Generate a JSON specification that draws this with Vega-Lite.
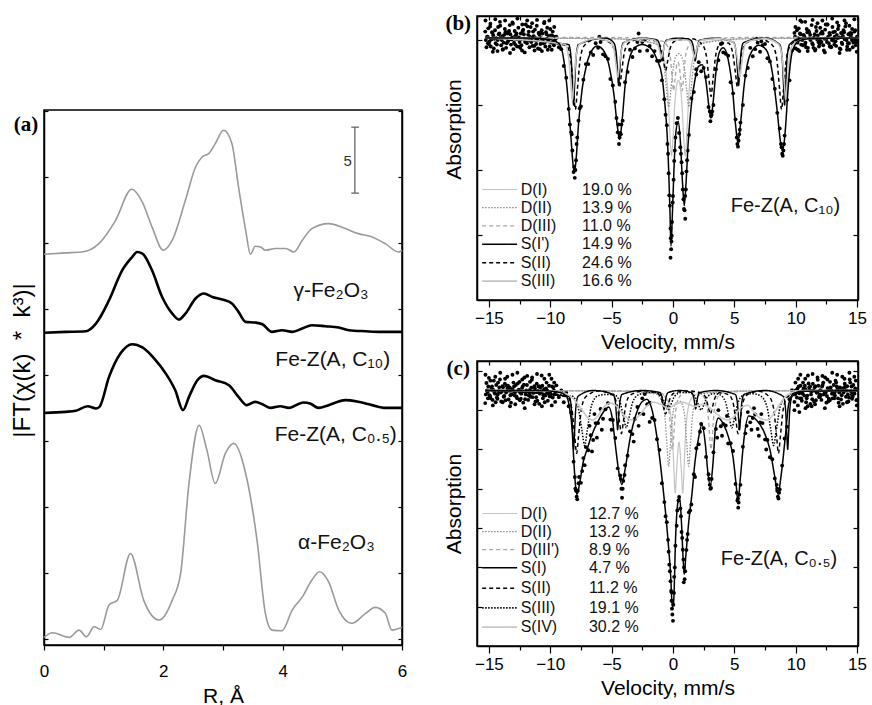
{
"$schema":"https://vega.github.io/schema/vega-lite/v6.json",
"padding":{"left":9,"top":12,"right":4,"bottom":0},
"config":{
 "font":"Liberation Sans",
 "view":{"stroke":"black","strokeWidth":1.5},
 "axis":{"grid":false,"domainColor":"black","domainWidth":1.5,"tickColor":"black","tickWidth":1.2,"labelColor":"black","titleColor":"black","titleFontWeight":"normal","labelFont":"Liberation Sans","titleFont":"Liberation Sans"}
},
"datasets":{
"ft":[
{"s":"g","r":0,"f":29.17},{"s":"g","r":0.36,"f":29.27},{"s":"g","r":0.64,"f":29.34},{"s":"g","r":0.92,"f":29.97},{"s":"g","r":1.2,"f":31.74},{"s":"g","r":1.47,"f":34.09},{"s":"g","r":1.65,"f":33.1},{"s":"g","r":1.81,"f":31.24},{"s":"g","r":2.0,"f":29.47},{"s":"g","r":2.15,"f":30.23},{"s":"g","r":2.37,"f":33.26},{"s":"g","r":2.54,"f":35.78},{"s":"g","r":2.65,"f":36.54},{"s":"g","r":2.76,"f":36.79},{"s":"g","r":2.87,"f":37.55},{"s":"g","r":3.01,"f":38.56},{"s":"g","r":3.15,"f":37.55},{"s":"g","r":3.26,"f":34.27},{"s":"g","r":3.38,"f":30.98},{"s":"g","r":3.46,"f":29.17},{"s":"g","r":3.54,"f":29.77},{"s":"g","r":3.63,"f":29.72},{"s":"g","r":3.71,"f":29.47},{"s":"g","r":3.88,"f":29.6},{"s":"g","r":4.05,"f":29.6},{"s":"g","r":4.19,"f":29.34},{"s":"g","r":4.33,"f":30.23},{"s":"g","r":4.49,"f":31.11},{"s":"g","r":4.77,"f":31.49},{"s":"g","r":5.05,"f":31.11},{"s":"g","r":5.27,"f":30.73},{"s":"g","r":5.5,"f":30.48},{"s":"g","r":5.72,"f":29.97},{"s":"g","r":5.94,"f":29.34},{"s":"g","r":6,"f":29.47},
{"s":"c10","r":0,"f":23.21},{"s":"c10","r":0.36,"f":23.28},{"s":"c10","r":0.7,"f":23.33},{"s":"c10","r":0.87,"f":23.91},{"s":"c10","r":1.09,"f":25.68},{"s":"c10","r":1.31,"f":27.95},{"s":"c10","r":1.48,"f":28.97},{"s":"c10","r":1.56,"f":29.34},{"s":"c10","r":1.65,"f":29.22},{"s":"c10","r":1.81,"f":27.95},{"s":"c10","r":1.98,"f":25.93},{"s":"c10","r":2.15,"f":24.67},{"s":"c10","r":2.26,"f":24.22},{"s":"c10","r":2.37,"f":24.67},{"s":"c10","r":2.54,"f":25.81},{"s":"c10","r":2.68,"f":26.19},{"s":"c10","r":2.82,"f":25.93},{"s":"c10","r":2.99,"f":25.73},{"s":"c10","r":3.15,"f":25.43},{"s":"c10","r":3.26,"f":24.8},{"s":"c10","r":3.38,"f":24.04},{"s":"c10","r":3.54,"f":23.99},{"s":"c10","r":3.66,"f":23.86},{"s":"c10","r":3.82,"f":23.28},{"s":"c10","r":3.99,"f":23.41},{"s":"c10","r":4.16,"f":23.28},{"s":"c10","r":4.33,"f":23.54},{"s":"c10","r":4.49,"f":23.79},{"s":"c10","r":4.72,"f":23.71},{"s":"c10","r":4.94,"f":23.61},{"s":"c10","r":5.11,"f":23.41},{"s":"c10","r":5.39,"f":23.33},{"s":"c10","r":5.66,"f":23.28},{"s":"c10","r":6,"f":23.28},
{"s":"c05","r":0,"f":17.14},{"s":"c05","r":0.36,"f":17.22},{"s":"c05","r":0.53,"f":17.3},{"s":"c05","r":0.73,"f":17.65},{"s":"c05","r":0.87,"f":17.48},{"s":"c05","r":0.93,"f":17.6},{"s":"c05","r":1.09,"f":19.87},{"s":"c05","r":1.28,"f":21.64},{"s":"c05","r":1.48,"f":22.35},{"s":"c05","r":1.65,"f":22.1},{"s":"c05","r":1.87,"f":21.14},{"s":"c05","r":2.04,"f":20.13},{"s":"c05","r":2.2,"f":18.86},{"s":"c05","r":2.33,"f":17.35},{"s":"c05","r":2.43,"f":18.36},{"s":"c05","r":2.57,"f":19.62},{"s":"c05","r":2.68,"f":19.95},{"s":"c05","r":2.87,"f":19.62},{"s":"c05","r":3.1,"f":19.24},{"s":"c05","r":3.26,"f":18.36},{"s":"c05","r":3.4,"f":17.73},{"s":"c05","r":3.54,"f":17.98},{"s":"c05","r":3.66,"f":17.8},{"s":"c05","r":3.8,"f":17.52},{"s":"c05","r":3.96,"f":17.65},{"s":"c05","r":4.1,"f":17.52},{"s":"c05","r":4.35,"f":17.93},{"s":"c05","r":4.46,"f":17.86},{"s":"c05","r":4.6,"f":17.52},{"s":"c05","r":4.77,"f":17.73},{"s":"c05","r":5.05,"f":18.11},{"s":"c05","r":5.27,"f":17.98},{"s":"c05","r":5.5,"f":17.73},{"s":"c05","r":5.72,"f":17.52},{"s":"c05","r":6,"f":17.52},
{"s":"a","r":0,"f":0.13},{"s":"a","r":0.14,"f":0.48},{"s":"a","r":0.42,"f":0.13},{"s":"a","r":0.59,"f":0.68},{"s":"a","r":0.71,"f":0.17},{"s":"a","r":0.84,"f":0.93},{"s":"a","r":0.95,"f":0.73},{"s":"a","r":1.09,"f":2.58},{"s":"a","r":1.23,"f":2.95},{"s":"a","r":1.45,"f":6.49},{"s":"a","r":1.67,"f":2.95},{"s":"a","r":1.93,"f":1.44},{"s":"a","r":2.15,"f":2.95},{"s":"a","r":2.29,"f":4.98},{"s":"a","r":2.43,"f":11.8},{"s":"a","r":2.6,"f":16.21},{"s":"a","r":2.73,"f":14.32},{"s":"a","r":2.87,"f":11.8},{"s":"a","r":3.04,"f":14.07},{"s":"a","r":3.18,"f":14.83},{"s":"a","r":3.38,"f":12.55},{"s":"a","r":3.57,"f":7.5},{"s":"a","r":3.71,"f":1.95},{"s":"a","r":3.82,"f":0.68},{"s":"a","r":3.99,"f":0.63},{"s":"a","r":4.16,"f":2.2},{"s":"a","r":4.33,"f":3.2},{"s":"a","r":4.49,"f":4.47},{"s":"a","r":4.62,"f":5.1},{"s":"a","r":4.77,"f":4.34},{"s":"a","r":4.94,"f":2.2},{"s":"a","r":5.16,"f":1.19},{"s":"a","r":5.39,"f":1.95},{"s":"a","r":5.55,"f":2.4},{"s":"a","r":5.72,"f":1.95},{"s":"a","r":5.83,"f":0.68},{"s":"a","r":6,"f":0.89}
],
"fit_b":[
{"v":-15.3,"a":4.03},{"v":-12,"a":4.03},{"v":-10,"a":4.01},{"v":-9.3,"a":3.95},{"v":-8.9,"a":3.7},{"v":-8.6,"a":3.2},{"v":-8.35,"a":2.6},{"v":-8.15,"a":2.1},{"v":-8.04,"a":1.96},{"v":-7.9,"a":2.15},{"v":-7.7,"a":2.7},{"v":-7.4,"a":3.25},{"v":-7.0,"a":3.65},{"v":-6.5,"a":3.87},{"v":-6.19,"a":3.91},{"v":-5.7,"a":3.85},{"v":-5.2,"a":3.6},{"v":-4.8,"a":3.15},{"v":-4.55,"a":2.7},{"v":-4.35,"a":2.47},{"v":-4.15,"a":2.75},{"v":-3.9,"a":3.3},{"v":-3.5,"a":3.75},{"v":-3.0,"a":3.9},{"v":-2.53,"a":3.93},{"v":-2.0,"a":3.9},{"v":-1.7,"a":3.85},{"v":-1.3,"a":3.7},{"v":-0.9,"a":3.45},{"v":-0.65,"a":3.0},{"v":-0.49,"a":2.6},{"v":-0.35,"a":2.0},{"v":-0.25,"a":1.4},{"v":-0.16,"a":0.83},{"v":-0.05,"a":1.3},{"v":0.1,"a":2.1},{"v":0.25,"a":2.6},{"v":0.43,"a":2.75},{"v":0.6,"a":2.45},{"v":0.78,"a":1.8},{"v":0.92,"a":1.45},{"v":1.05,"a":1.75},{"v":1.25,"a":2.45},{"v":1.5,"a":3.0},{"v":1.8,"a":3.4},{"v":2.1,"a":3.6},{"v":2.4,"a":3.62},{"v":2.7,"a":3.35},{"v":2.95,"a":2.95},{"v":3.1,"a":2.8},{"v":3.25,"a":3.0},{"v":3.5,"a":3.5},{"v":3.8,"a":3.82},{"v":4.1,"a":3.88},{"v":4.5,"a":3.7},{"v":4.85,"a":3.25},{"v":5.1,"a":2.7},{"v":5.3,"a":2.42},{"v":5.5,"a":2.7},{"v":5.8,"a":3.3},{"v":6.3,"a":3.78},{"v":7.0,"a":3.92},{"v":7.6,"a":3.85},{"v":8.1,"a":3.5},{"v":8.5,"a":2.9},{"v":8.75,"a":2.45},{"v":8.94,"a":2.29},{"v":9.15,"a":2.6},{"v":9.4,"a":3.3},{"v":9.7,"a":3.8},{"v":10.2,"a":3.98},{"v":11,"a":4.02},{"v":15.1,"a":4.03}
],
"fit_c":[
{"v":-15.3,"a":6.5},{"v":-11,"a":6.5},{"v":-9.5,"a":6.47},{"v":-9,"a":6.43},{"v":-8.64,"a":6.33},{"v":-8.4,"a":6.0},{"v":-8.23,"a":5.56},{"v":-8.04,"a":4.5},{"v":-7.9,"a":3.95},{"v":-7.82,"a":3.86},{"v":-7.6,"a":4.15},{"v":-7.3,"a":4.7},{"v":-7.0,"a":5.0},{"v":-6.7,"a":5.3},{"v":-6.0,"a":5.78},{"v":-5.5,"a":6.02},{"v":-5.24,"a":6.08},{"v":-4.95,"a":5.8},{"v":-4.7,"a":5.13},{"v":-4.4,"a":4.4},{"v":-4.16,"a":4.11},{"v":-3.9,"a":4.5},{"v":-3.48,"a":5.3},{"v":-3.0,"a":5.9},{"v":-2.5,"a":6.22},{"v":-2.12,"a":6.28},{"v":-1.7,"a":6.0},{"v":-1.3,"a":5.3},{"v":-0.87,"a":4.2},{"v":-0.46,"a":2.9},{"v":-0.19,"a":1.8},{"v":-0.05,"a":1.0},{"v":0.05,"a":1.1},{"v":0.22,"a":2.8},{"v":0.4,"a":3.65},{"v":0.55,"a":3.77},{"v":0.7,"a":3.1},{"v":0.85,"a":2.1},{"v":0.92,"a":1.82},{"v":1.05,"a":2.3},{"v":1.3,"a":3.2},{"v":1.55,"a":3.87},{"v":1.8,"a":4.7},{"v":2.09,"a":5.3},{"v":2.36,"a":5.64},{"v":2.65,"a":5.1},{"v":2.85,"a":4.4},{"v":3.04,"a":4.07},{"v":3.25,"a":4.6},{"v":3.45,"a":5.5},{"v":3.7,"a":5.8},{"v":4.1,"a":5.65},{"v":4.54,"a":5.3},{"v":4.9,"a":4.8},{"v":5.15,"a":4.1},{"v":5.3,"a":3.69},{"v":5.5,"a":4.3},{"v":5.8,"a":5.3},{"v":6.17,"a":5.85},{"v":6.8,"a":5.75},{"v":7.39,"a":5.47},{"v":7.9,"a":5.0},{"v":8.3,"a":4.3},{"v":8.56,"a":3.86},{"v":8.8,"a":4.3},{"v":9.15,"a":5.3},{"v":9.43,"a":6.15},{"v":9.8,"a":6.42},{"v":10.5,"a":6.48},{"v":15.1,"a":6.5}
],
"pts_b":[
{"v":-15.3,"a":4.13},{"v":-15.2,"a":3.89},{"v":-15.1,"a":4.05},{"v":-15.0,"a":3.94},{"v":-14.9,"a":4.21},{"v":-14.8,"a":4.01},{"v":-14.7,"a":4.11},{"v":-14.6,"a":3.87},{"v":-14.5,"a":4.15},{"v":-14.4,"a":4.03},{"v":-14.3,"a":3.83},{"v":-14.2,"a":4.09},{"v":-14.1,"a":4.28},{"v":-14.0,"a":3.92},{"v":-13.9,"a":4.06},{"v":-13.8,"a":3.96},{"v":-13.7,"a":4.17},{"v":-13.6,"a":3.88},{"v":-13.5,"a":4.12},{"v":-13.4,"a":4.0},{"v":-13.3,"a":4.23},{"v":-13.2,"a":3.93},{"v":-13.1,"a":4.04},{"v":-13.0,"a":3.86},{"v":-12.9,"a":4.14},{"v":-12.8,"a":4.07},{"v":-12.7,"a":3.9},{"v":-12.6,"a":4.19},{"v":-12.5,"a":3.97},{"v":-12.4,"a":4.1},{"v":-12.3,"a":3.84},{"v":-12.2,"a":4.16},{"v":-12.1,"a":4.02},{"v":-12.0,"a":4.24},{"v":-11.9,"a":3.95},{"v":-11.8,"a":4.08},{"v":-11.7,"a":3.89},{"v":-11.6,"a":4.2},{"v":-11.5,"a":3.99},{"v":-11.4,"a":4.13},{"v":-11.3,"a":3.91},{"v":-11.2,"a":4.03},{"v":-11.1,"a":4.22},{"v":-11.0,"a":3.87},{"v":-10.9,"a":4.11},{"v":-10.8,"a":3.94},{"v":-10.7,"a":4.15},{"v":-10.6,"a":4.01},{"v":-10.5,"a":4.26},{"v":-10.4,"a":3.9},{"v":-10.3,"a":4.09},{"v":-10.2,"a":3.85},{"v":-10.1,"a":4.06},{"v":-10.0,"a":4.17},{"v":-9.9,"a":3.96},{"v":-9.8,"a":4.13},{"v":-9.7,"a":3.92},{"v":-9.6,"a":4.05},
{"v":-15.25,"a":4.0},{"v":-15.05,"a":4.18},{"v":-14.85,"a":3.9},{"v":-14.65,"a":4.07},{"v":-14.45,"a":3.95},{"v":-14.25,"a":4.2},{"v":-14.05,"a":4.04},{"v":-13.85,"a":3.86},{"v":-13.65,"a":4.12},{"v":-13.45,"a":3.98},{"v":-13.25,"a":4.09},{"v":-13.05,"a":4.25},{"v":-12.85,"a":3.93},{"v":-12.65,"a":4.02},{"v":-12.45,"a":3.88},{"v":-12.25,"a":4.14},{"v":-12.05,"a":3.97},{"v":-11.85,"a":4.21},{"v":-11.65,"a":4.05},{"v":-11.45,"a":3.91},{"v":-11.25,"a":4.16},{"v":-11.05,"a":4.0},{"v":-10.85,"a":3.86},{"v":-10.65,"a":4.1},{"v":-10.45,"a":3.96},{"v":-10.25,"a":4.19},{"v":-10.05,"a":3.9},{"v":-9.85,"a":4.07},{"v":-9.65,"a":3.99},
{"v":-15.28,"a":4.3},{"v":-15.08,"a":3.95},{"v":-14.88,"a":4.25},{"v":-14.68,"a":3.82},{"v":-14.48,"a":4.32},{"v":-14.28,"a":4.0},{"v":-14.08,"a":4.22},{"v":-13.88,"a":3.85},{"v":-13.68,"a":4.3},{"v":-13.48,"a":4.1},{"v":-13.28,"a":3.8},{"v":-13.08,"a":4.27},{"v":-12.88,"a":4.05},{"v":-12.68,"a":4.33},{"v":-12.48,"a":3.9},{"v":-12.28,"a":4.24},{"v":-12.08,"a":3.81},{"v":-11.88,"a":4.3},{"v":-11.68,"a":4.0},{"v":-11.48,"a":4.26},{"v":-11.28,"a":3.84},{"v":-11.08,"a":4.31},{"v":-10.88,"a":4.08},{"v":-10.68,"a":3.83},{"v":-10.48,"a":4.28},{"v":-10.28,"a":4.02},{"v":-10.08,"a":4.3},{"v":-9.88,"a":3.85},{"v":-9.68,"a":4.2},
{"v":-15.15,"a":4.05},{"v":-14.95,"a":3.98},{"v":-14.75,"a":4.12},{"v":-14.55,"a":4.02},{"v":-14.35,"a":3.93},{"v":-14.15,"a":4.1},{"v":-13.95,"a":4.0},{"v":-13.75,"a":4.08},{"v":-13.55,"a":3.95},{"v":-13.35,"a":4.14},{"v":-13.15,"a":4.01},{"v":-12.95,"a":3.96},{"v":-12.75,"a":4.1},{"v":-12.55,"a":4.04},{"v":-12.35,"a":3.92},{"v":-12.15,"a":4.09},{"v":-11.95,"a":4.0},{"v":-11.75,"a":4.13},{"v":-11.55,"a":3.97},{"v":-11.35,"a":4.06},{"v":-11.15,"a":3.94},{"v":-10.95,"a":4.11},{"v":-10.75,"a":4.03},{"v":-10.55,"a":3.95},{"v":-10.35,"a":4.12},{"v":-10.15,"a":4.0},{"v":-9.95,"a":4.07},{"v":-9.75,"a":3.96},{"v":-9.55,"a":4.02},
{"v":-9.5,"a":4.05},{"v":-9.3,"a":3.89},{"v":-9.1,"a":3.86},{"v":-8.9,"a":3.6},{"v":-8.7,"a":3.42},{"v":-8.5,"a":2.94},{"v":-8.3,"a":2.58},{"v":-8.1,"a":1.97},{"v":-7.9,"a":2.15},{"v":-7.7,"a":2.76},{"v":-7.5,"a":2.98},{"v":-7.3,"a":3.39},{"v":-7.1,"a":3.63},{"v":-6.9,"a":3.63},{"v":-6.7,"a":3.81},{"v":-6.5,"a":3.77},{"v":-6.3,"a":3.95},{"v":-6.1,"a":3.88},{"v":-5.9,"a":3.97},{"v":-5.7,"a":3.78},{"v":-5.5,"a":3.75},{"v":-5.3,"a":3.71},{"v":-5.1,"a":3.4},{"v":-4.9,"a":3.3},{"v":-4.7,"a":3.05},{"v":-4.5,"a":2.58},{"v":-4.3,"a":2.57},{"v":-4.1,"a":2.76},{"v":-3.9,"a":3.35},{"v":-3.7,"a":3.51},{"v":-3.5,"a":3.85},{"v":-3.3,"a":3.74},{"v":-3.1,"a":3.87},{"v":-2.9,"a":3.97},{"v":-2.7,"a":3.83},{"v":-2.5,"a":3.97},{"v":-2.3,"a":4.0},{"v":-2.1,"a":3.84},{"v":-1.9,"a":3.91},{"v":-1.7,"a":3.75},{"v":-1.5,"a":3.83},{"v":-1.3,"a":3.68},{"v":-1.1,"a":3.68},{"v":-0.9,"a":3.38},{"v":-0.7,"a":3.09},{"v":-0.5,"a":2.69},{"v":-0.3,"a":1.61},{"v":-0.1,"a":0.99},{"v":0.1,"a":2.14},{"v":0.3,"a":2.72},{"v":0.5,"a":2.57},{"v":0.7,"a":2.12},{"v":0.9,"a":1.4},{"v":1.1,"a":1.98},{"v":1.3,"a":2.54},{"v":1.5,"a":3.1},{"v":1.7,"a":3.2},{"v":1.9,"a":3.47},{"v":2.1,"a":3.66},{"v":2.3,"a":3.52},{"v":2.5,"a":3.57},{"v":2.7,"a":3.43},{"v":2.9,"a":2.97},{"v":3.1,"a":2.83},{"v":3.3,"a":3.0},{"v":3.5,"a":3.55},{"v":3.7,"a":3.69},{"v":3.9,"a":3.94},{"v":4.1,"a":3.81},{"v":4.3,"a":3.79},{"v":4.5,"a":3.76},{"v":4.7,"a":3.35},{"v":4.9,"a":3.18},{"v":5.1,"a":2.78},{"v":5.3,"a":2.36},{"v":5.5,"a":2.73},{"v":5.7,"a":3.0},{"v":5.9,"a":3.45},{"v":6.1,"a":3.57},{"v":6.3,"a":3.88},{"v":6.5,"a":3.75},{"v":6.7,"a":3.86},{"v":6.9,"a":3.96},{"v":7.1,"a":3.82},{"v":7.3,"a":3.92},{"v":7.5,"a":3.94},{"v":7.7,"a":3.72},{"v":7.9,"a":3.67},{"v":8.1,"a":3.4},{"v":8.3,"a":3.25},{"v":8.5,"a":2.88},{"v":8.7,"a":2.64},{"v":8.9,"a":2.25},{"v":9.1,"a":2.53},{"v":9.3,"a":3.08},{"v":9.5,"a":3.38},{"v":9.7,"a":3.84},
{"v":-8.2,"a":2.3},{"v":-8.0,"a":1.88},{"v":-8.05,"a":2.05},{"v":-7.95,"a":2.0},{"v":-7.85,"a":2.4},{"v":-8.25,"a":2.55},{"v":-7.8,"a":2.5},{"v":-7.6,"a":2.95},{"v":-8.4,"a":2.7},{"v":-4.4,"a":2.4},{"v":-4.35,"a":2.5},{"v":-4.25,"a":2.55},{"v":-4.45,"a":2.7},{"v":-4.2,"a":2.7},{"v":-4.6,"a":2.8},{"v":-0.6,"a":2.85},{"v":-0.45,"a":2.4},{"v":-0.4,"a":2.25},{"v":-0.35,"a":1.95},{"v":-0.25,"a":1.45},{"v":-0.2,"a":1.1},{"v":-0.18,"a":0.95},{"v":-0.15,"a":0.78},{"v":-0.12,"a":0.9},{"v":-0.08,"a":1.2},{"v":-0.02,"a":1.5},{"v":0.0,"a":1.6},{"v":0.05,"a":1.85},{"v":0.15,"a":2.3},{"v":0.2,"a":2.5},{"v":0.4,"a":2.8},{"v":0.6,"a":2.35},{"v":0.65,"a":2.25},{"v":0.75,"a":1.95},{"v":0.8,"a":1.7},{"v":0.85,"a":1.55},{"v":0.95,"a":1.38},{"v":1.0,"a":1.6},{"v":1.05,"a":1.7},{"v":1.15,"a":2.15},{"v":1.2,"a":2.3},{"v":1.0,"a":1.25},{"v":-0.2,"a":0.65},{"v":3.0,"a":2.9},{"v":3.05,"a":2.75},{"v":3.15,"a":2.85},{"v":3.2,"a":2.9},{"v":5.2,"a":2.5},{"v":5.25,"a":2.4},{"v":5.35,"a":2.45},{"v":5.4,"a":2.55},{"v":5.45,"a":2.62},{"v":8.85,"a":2.35},{"v":8.95,"a":2.22},{"v":9.0,"a":2.3},{"v":9.05,"a":2.4},{"v":8.8,"a":2.4},{"v":-6.0,"a":4.05},{"v":-2.8,"a":4.1},{"v":6.8,"a":4.02},{"v":7.2,"a":3.98},{"v":4.0,"a":3.95},{"v":1.9,"a":3.55},
{"v":9.9,"a":4.11},{"v":10.0,"a":3.87},{"v":10.1,"a":4.15},{"v":10.2,"a":4.03},{"v":10.3,"a":3.83},{"v":10.4,"a":4.09},{"v":10.5,"a":4.28},{"v":10.6,"a":3.92},{"v":10.7,"a":4.06},{"v":10.8,"a":3.96},{"v":10.9,"a":4.17},{"v":11.0,"a":3.88},{"v":11.1,"a":4.12},{"v":11.2,"a":4.0},{"v":11.3,"a":4.23},{"v":11.4,"a":3.93},{"v":11.5,"a":4.04},{"v":11.6,"a":3.86},{"v":11.7,"a":4.14},{"v":11.8,"a":4.07},{"v":11.9,"a":3.9},{"v":12.0,"a":4.19},{"v":12.1,"a":3.97},{"v":12.2,"a":4.1},{"v":12.3,"a":3.84},{"v":12.4,"a":4.16},{"v":12.5,"a":4.02},{"v":12.6,"a":4.24},{"v":12.7,"a":3.95},{"v":12.8,"a":4.08},{"v":12.9,"a":3.89},{"v":13.0,"a":4.2},{"v":13.1,"a":3.99},{"v":13.2,"a":4.13},{"v":13.3,"a":3.91},{"v":13.4,"a":4.03},{"v":13.5,"a":4.22},{"v":13.6,"a":3.87},{"v":13.7,"a":4.11},{"v":13.8,"a":3.94},{"v":13.9,"a":4.15},{"v":14.0,"a":4.01},{"v":14.1,"a":4.26},{"v":14.2,"a":3.9},{"v":14.3,"a":4.09},{"v":14.4,"a":3.85},{"v":14.5,"a":4.06},{"v":14.6,"a":4.17},{"v":14.7,"a":3.96},{"v":14.8,"a":4.13},{"v":14.9,"a":3.92},{"v":15.0,"a":4.05},
{"v":10.05,"a":4.0},{"v":10.25,"a":4.18},{"v":10.45,"a":3.93},{"v":10.65,"a":4.08},{"v":10.85,"a":3.89},{"v":11.05,"a":4.14},{"v":11.25,"a":4.02},{"v":11.45,"a":3.88},{"v":11.65,"a":4.2},{"v":11.85,"a":3.97},{"v":12.05,"a":4.1},{"v":12.25,"a":3.92},{"v":12.45,"a":4.24},{"v":12.65,"a":4.05},{"v":12.85,"a":3.9},{"v":13.05,"a":4.12},{"v":13.25,"a":3.98},{"v":13.45,"a":4.17},{"v":13.65,"a":3.86},{"v":13.85,"a":4.06},{"v":14.05,"a":4.21},{"v":14.25,"a":3.95},{"v":14.45,"a":4.11},{"v":14.65,"a":3.89},{"v":14.85,"a":4.15},{"v":14.95,"a":4.0},
{"v":9.98,"a":4.2},{"v":10.18,"a":3.85},{"v":10.38,"a":4.3},{"v":10.58,"a":4.02},{"v":10.78,"a":4.28},{"v":10.98,"a":3.83},{"v":11.18,"a":4.08},{"v":11.38,"a":4.31},{"v":11.58,"a":3.84},{"v":11.78,"a":4.26},{"v":11.98,"a":4.0},{"v":12.18,"a":4.3},{"v":12.38,"a":3.81},{"v":12.58,"a":4.24},{"v":12.78,"a":3.9},{"v":12.98,"a":4.33},{"v":13.18,"a":4.05},{"v":13.38,"a":4.27},{"v":13.58,"a":3.8},{"v":13.78,"a":4.1},{"v":13.98,"a":4.3},{"v":14.18,"a":3.85},{"v":14.38,"a":4.22},{"v":14.58,"a":4.0},{"v":14.78,"a":4.32},{"v":14.98,"a":3.82},
{"v":9.95,"a":4.05},{"v":10.15,"a":3.96},{"v":10.35,"a":4.1},{"v":10.55,"a":4.0},{"v":10.75,"a":3.93},{"v":10.95,"a":4.12},{"v":11.15,"a":4.03},{"v":11.35,"a":3.95},{"v":11.55,"a":4.09},{"v":11.75,"a":4.01},{"v":11.95,"a":3.94},{"v":12.15,"a":4.13},{"v":12.35,"a":4.02},{"v":12.55,"a":3.97},{"v":12.75,"a":4.11},{"v":12.95,"a":4.0},{"v":13.15,"a":3.93},{"v":13.35,"a":4.08},{"v":13.55,"a":4.04},{"v":13.75,"a":3.96},{"v":13.95,"a":4.12},{"v":14.15,"a":4.0},{"v":14.35,"a":3.95},{"v":14.55,"a":4.1},{"v":14.75,"a":4.02},{"v":14.95,"a":3.97}
],
"pts_c":[
{"v":-15.3,"a":6.18},{"v":-15.2,"a":6.69},{"v":-15.1,"a":6.46},{"v":-15.0,"a":6.82},{"v":-14.9,"a":6.35},{"v":-14.8,"a":6.56},{"v":-14.7,"a":6.26},{"v":-14.6,"a":6.75},{"v":-14.5,"a":6.42},{"v":-14.4,"a":6.64},{"v":-14.3,"a":6.29},{"v":-14.2,"a":6.48},{"v":-14.1,"a":6.78},{"v":-14.0,"a":6.22},{"v":-13.9,"a":6.61},{"v":-13.8,"a":6.34},{"v":-13.7,"a":6.67},{"v":-13.6,"a":6.45},{"v":-13.5,"a":6.85},{"v":-13.4,"a":6.27},{"v":-13.3,"a":6.58},{"v":-13.2,"a":6.19},{"v":-13.1,"a":6.53},{"v":-13.0,"a":6.7},{"v":-12.9,"a":6.37},{"v":-12.8,"a":6.64},{"v":-12.7,"a":6.3},{"v":-12.6,"a":6.51},{"v":-12.5,"a":6.72},{"v":-12.4,"a":6.29},{"v":-12.3,"a":6.56},{"v":-12.2,"a":6.19},{"v":-12.1,"a":6.83},{"v":-12.0,"a":6.4},{"v":-11.9,"a":6.64},{"v":-11.8,"a":6.26},{"v":-11.7,"a":6.51},{"v":-11.6,"a":6.34},{"v":-11.5,"a":6.77},{"v":-11.4,"a":6.45},{"v":-11.3,"a":6.61},{"v":-11.2,"a":6.22},{"v":-11.1,"a":6.67},{"v":-11.0,"a":6.48},{"v":-10.9,"a":6.16},{"v":-10.8,"a":6.58},{"v":-10.7,"a":6.88},{"v":-10.6,"a":6.3},{"v":-10.5,"a":6.53},{"v":-10.4,"a":6.37},{"v":-10.3,"a":6.7},{"v":-10.2,"a":6.24},{"v":-10.1,"a":6.62},{"v":-10.0,"a":6.43},{"v":-9.9,"a":6.8},{"v":-9.8,"a":6.32},{"v":-9.7,"a":6.5},{"v":-9.6,"a":6.21},
{"v":-15.25,"a":6.4},{"v":-15.05,"a":6.6},{"v":-14.85,"a":6.3},{"v":-14.65,"a":6.52},{"v":-14.45,"a":6.2},{"v":-14.25,"a":6.7},{"v":-14.05,"a":6.45},{"v":-13.85,"a":6.58},{"v":-13.65,"a":6.25},{"v":-13.45,"a":6.62},{"v":-13.25,"a":6.38},{"v":-13.05,"a":6.5},{"v":-12.85,"a":6.15},{"v":-12.65,"a":6.68},{"v":-12.45,"a":6.44},{"v":-12.25,"a":6.6},{"v":-12.05,"a":6.28},{"v":-11.85,"a":6.48},{"v":-11.65,"a":6.72},{"v":-11.45,"a":6.33},{"v":-11.25,"a":6.55},{"v":-11.05,"a":6.24},{"v":-10.85,"a":6.42},{"v":-10.65,"a":6.62},{"v":-10.45,"a":6.2},{"v":-10.25,"a":6.5},{"v":-10.05,"a":6.35},{"v":-9.85,"a":6.6},{"v":-9.65,"a":6.4},
{"v":-15.28,"a":6.9},{"v":-15.08,"a":6.3},{"v":-14.88,"a":6.75},{"v":-14.68,"a":6.12},{"v":-14.48,"a":6.85},{"v":-14.28,"a":6.4},{"v":-14.08,"a":6.95},{"v":-13.88,"a":6.2},{"v":-13.68,"a":6.8},{"v":-13.48,"a":6.55},{"v":-13.28,"a":6.1},{"v":-13.08,"a":6.9},{"v":-12.88,"a":6.45},{"v":-12.68,"a":6.95},{"v":-12.48,"a":6.25},{"v":-12.28,"a":6.78},{"v":-12.08,"a":6.05},{"v":-11.88,"a":6.87},{"v":-11.68,"a":6.4},{"v":-11.48,"a":6.83},{"v":-11.28,"a":6.15},{"v":-11.08,"a":6.92},{"v":-10.88,"a":6.6},{"v":-10.68,"a":6.1},{"v":-10.48,"a":6.8},{"v":-10.28,"a":6.42},{"v":-10.08,"a":6.9},{"v":-9.88,"a":6.12},{"v":-9.68,"a":6.7},
{"v":-15.15,"a":6.5},{"v":-14.95,"a":6.38},{"v":-14.75,"a":6.6},{"v":-14.55,"a":6.45},{"v":-14.35,"a":6.32},{"v":-14.15,"a":6.58},{"v":-13.95,"a":6.47},{"v":-13.75,"a":6.36},{"v":-13.55,"a":6.62},{"v":-13.35,"a":6.5},{"v":-13.15,"a":6.4},{"v":-12.95,"a":6.6},{"v":-12.75,"a":6.35},{"v":-12.55,"a":6.52},{"v":-12.35,"a":6.42},{"v":-12.15,"a":6.65},{"v":-11.95,"a":6.5},{"v":-11.75,"a":6.37},{"v":-11.55,"a":6.57},{"v":-11.35,"a":6.44},{"v":-11.15,"a":6.33},{"v":-10.95,"a":6.6},{"v":-10.75,"a":6.48},{"v":-10.55,"a":6.38},{"v":-10.35,"a":6.55},{"v":-10.15,"a":6.45},{"v":-9.95,"a":6.35},{"v":-9.75,"a":6.58},{"v":-9.55,"a":6.46},
{"v":-9.5,"a":6.63},{"v":-9.3,"a":6.33},{"v":-9.1,"a":6.5},{"v":-8.9,"a":6.2},{"v":-8.7,"a":6.45},{"v":-8.5,"a":6.1},{"v":-8.3,"a":5.94},{"v":-8.1,"a":4.69},{"v":-7.9,"a":3.95},{"v":-7.7,"a":4.14},{"v":-7.5,"a":4.15},{"v":-7.3,"a":4.78},{"v":-7.1,"a":5.06},{"v":-6.9,"a":4.98},{"v":-6.7,"a":5.36},{"v":-6.5,"a":5.24},{"v":-6.3,"a":5.67},{"v":-6.1,"a":5.67},{"v":-5.9,"a":6.03},{"v":-5.7,"a":5.78},{"v":-5.5,"a":6.02},{"v":-5.3,"a":6.18},{"v":-5.1,"a":5.76},{"v":-4.9,"a":5.75},{"v":-4.7,"a":5.29},{"v":-4.5,"a":4.52},{"v":-4.3,"a":4.34},{"v":-4.1,"a":4.0},{"v":-3.9,"a":4.6},{"v":-3.7,"a":4.84},{"v":-3.5,"a":5.46},{"v":-3.3,"a":5.39},{"v":-3.1,"a":5.78},{"v":-2.9,"a":6.08},{"v":-2.7,"a":5.91},{"v":-2.5,"a":6.3},{"v":-2.3,"a":6.41},{"v":-2.1,"a":6.15},{"v":-1.9,"a":6.19},{"v":-1.7,"a":5.8},{"v":-1.5,"a":5.75},{"v":-1.3,"a":5.26},{"v":-1.1,"a":4.99},{"v":-0.9,"a":4.14},{"v":-0.7,"a":3.66},{"v":-0.5,"a":3.15},{"v":-0.3,"a":2.07},{"v":-0.1,"a":1.37},{"v":0.1,"a":1.76},{"v":0.3,"a":3.06},{"v":0.5,"a":3.79},{"v":0.7,"a":2.9},{"v":0.9,"a":2.0},{"v":1.1,"a":2.44},{"v":1.3,"a":3.4},{"v":1.5,"a":3.6},{"v":1.7,"a":4.37},{"v":1.9,"a":5.03},{"v":2.1,"a":5.13},{"v":2.3,"a":5.65},{"v":2.5,"a":5.54},{"v":2.7,"a":4.81},{"v":2.9,"a":4.37},{"v":3.1,"a":4.02},{"v":3.3,"a":4.93},{"v":3.5,"a":5.52},{"v":3.7,"a":6.0},{"v":3.9,"a":5.59},{"v":4.1,"a":5.65},{"v":4.3,"a":5.61},{"v":4.5,"a":5.15},{"v":4.7,"a":5.16},{"v":4.9,"a":4.96},{"v":5.1,"a":4.12},{"v":5.3,"a":3.75},{"v":5.5,"a":4.1},{"v":5.7,"a":5.07},{"v":5.9,"a":5.41},{"v":6.1,"a":5.95},{"v":6.3,"a":5.69},{"v":6.5,"a":5.8},{"v":6.7,"a":5.89},{"v":6.9,"a":5.52},{"v":7.1,"a":5.69},{"v":7.3,"a":5.67},{"v":7.5,"a":5.25},{"v":7.7,"a":5.24},{"v":7.9,"a":4.8},{"v":8.1,"a":4.75},{"v":8.3,"a":4.26},{"v":8.5,"a":4.0},{"v":8.7,"a":3.98},{"v":8.9,"a":4.59},{"v":9.1,"a":5.28},{"v":9.3,"a":5.58},{"v":9.5,"a":6.28},{"v":9.7,"a":6.51},
{"v":-7.95,"a":4.0},{"v":-7.85,"a":3.8},{"v":-7.8,"a":3.73},{"v":-7.75,"a":3.95},{"v":-8.0,"a":4.3},{"v":-7.65,"a":4.3},{"v":-7.4,"a":4.45},{"v":-7.2,"a":4.6},{"v":-4.2,"a":4.0},{"v":-4.15,"a":3.77},{"v":-4.05,"a":4.2},{"v":-4.25,"a":4.25},{"v":-3.95,"a":4.35},{"v":-0.6,"a":3.3},{"v":-0.4,"a":2.7},{"v":-0.35,"a":2.4},{"v":-0.25,"a":1.9},{"v":-0.2,"a":1.65},{"v":-0.15,"a":1.4},{"v":-0.12,"a":1.15},{"v":-0.08,"a":0.95},{"v":-0.05,"a":0.8},{"v":0.0,"a":0.64},{"v":0.03,"a":1.05},{"v":0.08,"a":1.35},{"v":0.15,"a":2.0},{"v":0.2,"a":2.55},{"v":0.35,"a":3.45},{"v":0.45,"a":3.7},{"v":0.6,"a":3.5},{"v":0.65,"a":3.3},{"v":0.75,"a":2.75},{"v":0.8,"a":2.45},{"v":0.85,"a":2.2},{"v":0.95,"a":1.7},{"v":1.0,"a":1.9},{"v":1.15,"a":2.7},{"v":1.2,"a":2.85},{"v":1.4,"a":3.45},{"v":0.88,"a":1.62},{"v":3.0,"a":4.1},{"v":3.05,"a":4.0},{"v":2.95,"a":4.25},{"v":3.15,"a":4.25},{"v":5.25,"a":3.7},{"v":5.35,"a":3.65},{"v":5.32,"a":3.52},{"v":5.2,"a":3.9},{"v":5.4,"a":3.85},{"v":8.5,"a":3.95},{"v":8.55,"a":3.8},{"v":8.6,"a":3.75},{"v":8.65,"a":3.9},{"v":8.45,"a":4.1},{"v":-6.6,"a":4.95},{"v":-6.2,"a":5.3},{"v":-5.8,"a":5.5},{"v":-3.2,"a":5.2},{"v":-2.8,"a":5.6},{"v":1.8,"a":4.3},{"v":3.6,"a":5.3},{"v":4.0,"a":5.35},{"v":6.4,"a":5.5},{"v":7.0,"a":5.35},{"v":7.6,"a":5.0},{"v":6.0,"a":5.6},{"v":-1.9,"a":5.7},{"v":-2.4,"a":5.9},{"v":-5.0,"a":5.5},{"v":-6.8,"a":5.6},{"v":-6.4,"a":5.9},{"v":2.2,"a":5.45},{"v":4.4,"a":5.85},{"v":6.6,"a":6.05},{"v":7.2,"a":5.9},{"v":9.9,"a":6.0},{"v":10.3,"a":5.95},{"v":10.8,"a":6.05},{"v":11.3,"a":6.1},
{"v":9.9,"a":6.21},{"v":10.0,"a":6.5},{"v":10.1,"a":6.32},{"v":10.2,"a":6.8},{"v":10.3,"a":6.43},{"v":10.4,"a":6.62},{"v":10.5,"a":6.24},{"v":10.6,"a":6.7},{"v":10.7,"a":6.37},{"v":10.8,"a":6.53},{"v":10.9,"a":6.3},{"v":11.0,"a":6.88},{"v":11.1,"a":6.58},{"v":11.2,"a":6.16},{"v":11.3,"a":6.48},{"v":11.4,"a":6.67},{"v":11.5,"a":6.22},{"v":11.6,"a":6.61},{"v":11.7,"a":6.45},{"v":11.8,"a":6.77},{"v":11.9,"a":6.34},{"v":12.0,"a":6.51},{"v":12.1,"a":6.26},{"v":12.2,"a":6.64},{"v":12.3,"a":6.4},{"v":12.4,"a":6.83},{"v":12.5,"a":6.19},{"v":12.6,"a":6.56},{"v":12.7,"a":6.29},{"v":12.8,"a":6.72},{"v":12.9,"a":6.51},{"v":13.0,"a":6.3},{"v":13.1,"a":6.64},{"v":13.2,"a":6.37},{"v":13.3,"a":6.7},{"v":13.4,"a":6.53},{"v":13.5,"a":6.19},{"v":13.6,"a":6.58},{"v":13.7,"a":6.27},{"v":13.8,"a":6.85},{"v":13.9,"a":6.45},{"v":14.0,"a":6.67},{"v":14.1,"a":6.34},{"v":14.2,"a":6.61},{"v":14.3,"a":6.22},{"v":14.4,"a":6.78},{"v":14.5,"a":6.48},{"v":14.6,"a":6.29},{"v":14.7,"a":6.64},{"v":14.8,"a":6.42},{"v":14.9,"a":6.75},{"v":15.0,"a":6.26},
{"v":10.05,"a":6.45},{"v":10.25,"a":6.6},{"v":10.45,"a":6.3},{"v":10.65,"a":6.55},{"v":10.85,"a":6.2},{"v":11.05,"a":6.68},{"v":11.25,"a":6.4},{"v":11.45,"a":6.5},{"v":11.65,"a":6.25},{"v":11.85,"a":6.62},{"v":12.05,"a":6.38},{"v":12.25,"a":6.7},{"v":12.45,"a":6.45},{"v":12.65,"a":6.22},{"v":12.85,"a":6.58},{"v":13.05,"a":6.42},{"v":13.25,"a":6.75},{"v":13.45,"a":6.3},{"v":13.65,"a":6.52},{"v":13.85,"a":6.16},{"v":14.05,"a":6.6},{"v":14.25,"a":6.4},{"v":14.45,"a":6.7},{"v":14.65,"a":6.35},{"v":14.85,"a":6.55},{"v":14.95,"a":6.25},
{"v":9.98,"a":6.7},{"v":10.18,"a":6.12},{"v":10.38,"a":6.9},{"v":10.58,"a":6.42},{"v":10.78,"a":6.8},{"v":10.98,"a":6.1},{"v":11.18,"a":6.6},{"v":11.38,"a":6.92},{"v":11.58,"a":6.15},{"v":11.78,"a":6.83},{"v":11.98,"a":6.4},{"v":12.18,"a":6.87},{"v":12.38,"a":6.05},{"v":12.58,"a":6.78},{"v":12.78,"a":6.25},{"v":12.98,"a":6.95},{"v":13.18,"a":6.45},{"v":13.38,"a":6.9},{"v":13.58,"a":6.1},{"v":13.78,"a":6.55},{"v":13.98,"a":6.8},{"v":14.18,"a":6.2},{"v":14.38,"a":6.95},{"v":14.58,"a":6.4},{"v":14.78,"a":6.85},{"v":14.98,"a":6.12},
{"v":9.95,"a":6.4},{"v":10.15,"a":6.55},{"v":10.35,"a":6.3},{"v":10.55,"a":6.48},{"v":10.75,"a":6.62},{"v":10.95,"a":6.37},{"v":11.15,"a":6.5},{"v":11.35,"a":6.28},{"v":11.55,"a":6.58},{"v":11.75,"a":6.45},{"v":11.95,"a":6.33},{"v":12.15,"a":6.6},{"v":12.35,"a":6.47},{"v":12.55,"a":6.36},{"v":12.75,"a":6.55},{"v":12.95,"a":6.42},{"v":13.15,"a":6.3},{"v":13.35,"a":6.6},{"v":13.55,"a":6.45},{"v":13.75,"a":6.38},{"v":13.95,"a":6.57},{"v":14.15,"a":6.5},{"v":14.35,"a":6.32},{"v":14.55,"a":6.6},{"v":14.75,"a":6.44},{"v":14.95,"a":6.52}
],
"comp_b":[
{"s":"D(I)","v":-15.3,"a":4.03},{"s":"D(I)","v":-5,"a":4.02},{"s":"D(I)","v":-1.5,"a":3.95},{"s":"D(I)","v":-0.9,"a":3.81},{"s":"D(I)","v":-0.6,"a":3.57},{"s":"D(I)","v":-0.4,"a":3.14},{"s":"D(I)","v":-0.25,"a":2.55},{"s":"D(I)","v":-0.12,"a":2.22},{"s":"D(I)","v":0.0,"a":2.48},{"s":"D(I)","v":0.15,"a":3.01},{"s":"D(I)","v":0.3,"a":3.3},{"s":"D(I)","v":0.45,"a":3.38},{"s":"D(I)","v":0.6,"a":3.28},{"s":"D(I)","v":0.75,"a":2.95},{"s":"D(I)","v":0.87,"a":2.51},{"s":"D(I)","v":1.0,"a":2.22},{"s":"D(I)","v":1.15,"a":2.64},{"s":"D(I)","v":1.35,"a":3.33},{"s":"D(I)","v":1.6,"a":3.7},{"s":"D(I)","v":2.0,"a":3.89},{"s":"D(I)","v":2.6,"a":3.97},{"s":"D(I)","v":6,"a":4.02},{"s":"D(I)","v":15.1,"a":4.03},
{"s":"D(II)","v":-15.3,"a":4.03},{"s":"D(II)","v":-5,"a":4.02},{"s":"D(II)","v":-1.5,"a":3.95},{"s":"D(II)","v":-1.0,"a":3.83},{"s":"D(II)","v":-0.7,"a":3.57},{"s":"D(II)","v":-0.53,"a":3.25},{"s":"D(II)","v":-0.35,"a":2.97},{"s":"D(II)","v":-0.17,"a":3.23},{"s":"D(II)","v":0.0,"a":3.54},{"s":"D(II)","v":0.25,"a":3.75},{"s":"D(II)","v":0.48,"a":3.79},{"s":"D(II)","v":0.7,"a":3.75},{"s":"D(II)","v":0.95,"a":3.54},{"s":"D(II)","v":1.12,"a":3.23},{"s":"D(II)","v":1.3,"a":2.97},{"s":"D(II)","v":1.48,"a":3.25},{"s":"D(II)","v":1.65,"a":3.57},{"s":"D(II)","v":1.95,"a":3.83},{"s":"D(II)","v":2.45,"a":3.95},{"s":"D(II)","v":6,"a":4.02},{"s":"D(II)","v":15.1,"a":4.03},
{"s":"D(III)","v":-15.3,"a":4.04},{"s":"D(III)","v":-5,"a":4.04},{"s":"D(III)","v":-0.8,"a":3.98},{"s":"D(III)","v":-0.4,"a":3.88},{"s":"D(III)","v":-0.2,"a":3.71},{"s":"D(III)","v":-0.07,"a":3.44},{"s":"D(III)","v":0.05,"a":3.22},{"s":"D(III)","v":0.17,"a":3.4},{"s":"D(III)","v":0.3,"a":3.61},{"s":"D(III)","v":0.4,"a":3.66},{"s":"D(III)","v":0.5,"a":3.61},{"s":"D(III)","v":0.63,"a":3.4},{"s":"D(III)","v":0.75,"a":3.22},{"s":"D(III)","v":0.87,"a":3.44},{"s":"D(III)","v":1.0,"a":3.71},{"s":"D(III)","v":1.2,"a":3.88},{"s":"D(III)","v":1.6,"a":3.98},{"s":"D(III)","v":6,"a":4.04},{"s":"D(III)","v":15.1,"a":4.04},
{"s":"S(I')","v":-15.3,"a":4.03},{"s":"S(I')","v":-8.5,"a":3.93},{"s":"S(I')","v":-8.3,"a":3.72},{"s":"S(I')","v":-8.18,"a":3.28},{"s":"S(I')","v":-8.1,"a":3.0},{"s":"S(I')","v":-8.02,"a":3.28},{"s":"S(I')","v":-7.9,"a":3.72},{"s":"S(I')","v":-7.7,"a":3.93},{"s":"S(I')","v":-5.5,"a":4.03},{"s":"S(I')","v":-4.83,"a":3.96},{"s":"S(I')","v":-4.63,"a":3.81},{"s":"S(I')","v":-4.51,"a":3.5},{"s":"S(I')","v":-4.43,"a":3.3},{"s":"S(I')","v":-4.35,"a":3.5},{"s":"S(I')","v":-4.23,"a":3.81},{"s":"S(I')","v":-4.03,"a":3.96},{"s":"S(I')","v":-2.5,"a":4.03},{"s":"S(I')","v":-1.3,"a":4.0},{"s":"S(I')","v":-1.1,"a":3.93},{"s":"S(I')","v":-0.98,"a":3.78},{"s":"S(I')","v":-0.9,"a":3.68},{"s":"S(I')","v":-0.82,"a":3.78},{"s":"S(I')","v":-0.7,"a":3.93},{"s":"S(I')","v":-0.5,"a":4.0},{"s":"S(I')","v":0.5,"a":4.03},{"s":"S(I')","v":1.42,"a":4.0},{"s":"S(I')","v":1.62,"a":3.93},{"s":"S(I')","v":1.74,"a":3.78},{"s":"S(I')","v":1.82,"a":3.68},{"s":"S(I')","v":1.9,"a":3.78},{"s":"S(I')","v":2.02,"a":3.93},{"s":"S(I')","v":2.22,"a":4.0},{"s":"S(I')","v":3.5,"a":4.03},{"s":"S(I')","v":4.95,"a":3.96},{"s":"S(I')","v":5.15,"a":3.81},{"s":"S(I')","v":5.27,"a":3.5},{"s":"S(I')","v":5.35,"a":3.3},{"s":"S(I')","v":5.43,"a":3.5},{"s":"S(I')","v":5.55,"a":3.81},{"s":"S(I')","v":5.75,"a":3.96},{"s":"S(I')","v":7.5,"a":4.03},{"s":"S(I')","v":8.7,"a":3.93},{"s":"S(I')","v":8.9,"a":3.72},{"s":"S(I')","v":9.02,"a":3.28},{"s":"S(I')","v":9.1,"a":3.0},{"s":"S(I')","v":9.18,"a":3.28},{"s":"S(I')","v":9.3,"a":3.72},{"s":"S(I')","v":9.5,"a":3.93},{"s":"S(I')","v":10.5,"a":4.03},{"s":"S(I')","v":15.1,"a":4.03},
{"s":"S(II)","v":-15.3,"a":4.03},{"s":"S(II)","v":-8.7,"a":3.92},{"s":"S(II)","v":-8.35,"a":3.72},{"s":"S(II)","v":-8.1,"a":3.22},{"s":"S(II)","v":-7.95,"a":2.93},{"s":"S(II)","v":-7.8,"a":3.22},{"s":"S(II)","v":-7.55,"a":3.72},{"s":"S(II)","v":-7.2,"a":3.92},{"s":"S(II)","v":-6.2,"a":4.02},{"s":"S(II)","v":-5.1,"a":3.955},{"s":"S(II)","v":-4.75,"a":3.82},{"s":"S(II)","v":-4.5,"a":3.48},{"s":"S(II)","v":-4.35,"a":3.28},{"s":"S(II)","v":-4.2,"a":3.48},{"s":"S(II)","v":-3.95,"a":3.82},{"s":"S(II)","v":-3.6,"a":3.955},{"s":"S(II)","v":-2.6,"a":4.02},{"s":"S(II)","v":-1.35,"a":3.98},{"s":"S(II)","v":-1.0,"a":3.89},{"s":"S(II)","v":-0.75,"a":3.66},{"s":"S(II)","v":-0.6,"a":3.53},{"s":"S(II)","v":-0.45,"a":3.66},{"s":"S(II)","v":-0.2,"a":3.89},{"s":"S(II)","v":0.15,"a":3.98},{"s":"S(II)","v":1.5,"a":4.02},{"s":"S(II)","v":2.35,"a":3.94},{"s":"S(II)","v":2.7,"a":3.78},{"s":"S(II)","v":2.95,"a":3.37},{"s":"S(II)","v":3.1,"a":3.13},{"s":"S(II)","v":3.25,"a":3.37},{"s":"S(II)","v":3.5,"a":3.78},{"s":"S(II)","v":3.85,"a":3.94},{"s":"S(II)","v":4.5,"a":3.955},{"s":"S(II)","v":4.85,"a":3.82},{"s":"S(II)","v":5.1,"a":3.48},{"s":"S(II)","v":5.25,"a":3.28},{"s":"S(II)","v":5.4,"a":3.48},{"s":"S(II)","v":5.65,"a":3.82},{"s":"S(II)","v":6.0,"a":3.955},{"s":"S(II)","v":7.0,"a":4.02},{"s":"S(II)","v":8.1,"a":3.92},{"s":"S(II)","v":8.45,"a":3.72},{"s":"S(II)","v":8.7,"a":3.22},{"s":"S(II)","v":8.85,"a":2.93},{"s":"S(II)","v":9.0,"a":3.22},{"s":"S(II)","v":9.25,"a":3.72},{"s":"S(II)","v":9.6,"a":3.92},{"s":"S(II)","v":10.6,"a":4.02},{"s":"S(II)","v":15.1,"a":4.03},
{"s":"S(III)","v":-15.3,"a":4.03},{"s":"S(III)","v":-8.8,"a":3.935},{"s":"S(III)","v":-8.5,"a":3.735},{"s":"S(III)","v":-8.32,"a":3.33},{"s":"S(III)","v":-8.2,"a":3.08},{"s":"S(III)","v":-8.08,"a":3.33},{"s":"S(III)","v":-7.9,"a":3.735},{"s":"S(III)","v":-7.6,"a":3.935},{"s":"S(III)","v":-6.3,"a":4.02},{"s":"S(III)","v":-5.1,"a":3.97},{"s":"S(III)","v":-4.8,"a":3.84},{"s":"S(III)","v":-4.62,"a":3.59},{"s":"S(III)","v":-4.5,"a":3.43},{"s":"S(III)","v":-4.38,"a":3.59},{"s":"S(III)","v":-4.2,"a":3.84},{"s":"S(III)","v":-3.9,"a":3.97},{"s":"S(III)","v":-2.5,"a":4.02},{"s":"S(III)","v":-1.55,"a":4.0},{"s":"S(III)","v":-1.25,"a":3.94},{"s":"S(III)","v":-1.07,"a":3.81},{"s":"S(III)","v":-0.95,"a":3.73},{"s":"S(III)","v":-0.83,"a":3.81},{"s":"S(III)","v":-0.65,"a":3.94},{"s":"S(III)","v":-0.35,"a":4.0},{"s":"S(III)","v":1.15,"a":4.0},{"s":"S(III)","v":1.45,"a":3.94},{"s":"S(III)","v":1.63,"a":3.81},{"s":"S(III)","v":1.75,"a":3.73},{"s":"S(III)","v":1.87,"a":3.81},{"s":"S(III)","v":2.05,"a":3.94},{"s":"S(III)","v":2.35,"a":4.0},{"s":"S(III)","v":3.9,"a":4.02},{"s":"S(III)","v":4.85,"a":3.97},{"s":"S(III)","v":5.15,"a":3.84},{"s":"S(III)","v":5.33,"a":3.59},{"s":"S(III)","v":5.45,"a":3.43},{"s":"S(III)","v":5.57,"a":3.59},{"s":"S(III)","v":5.75,"a":3.84},{"s":"S(III)","v":6.05,"a":3.97},{"s":"S(III)","v":7.5,"a":4.02},{"s":"S(III)","v":8.6,"a":3.935},{"s":"S(III)","v":8.9,"a":3.735},{"s":"S(III)","v":9.08,"a":3.33},{"s":"S(III)","v":9.2,"a":3.08},{"s":"S(III)","v":9.32,"a":3.33},{"s":"S(III)","v":9.5,"a":3.735},{"s":"S(III)","v":9.8,"a":3.935},{"s":"S(III)","v":11,"a":4.02},{"s":"S(III)","v":15.1,"a":4.03}
],
"comp_c":[
{"s":"D(I)","v":-15.3,"a":6.5},{"s":"D(I)","v":-3,"a":6.48},{"s":"D(I)","v":-1.0,"a":6.41},{"s":"D(I)","v":-0.5,"a":6.28},{"s":"D(I)","v":-0.25,"a":6.03},{"s":"D(I)","v":-0.05,"a":5.41},{"s":"D(I)","v":0.07,"a":4.55},{"s":"D(I)","v":0.18,"a":3.89},{"s":"D(I)","v":0.3,"a":4.48},{"s":"D(I)","v":0.49,"a":5.19},{"s":"D(I)","v":0.68,"a":4.48},{"s":"D(I)","v":0.8,"a":3.89},{"s":"D(I)","v":0.91,"a":4.55},{"s":"D(I)","v":1.03,"a":5.41},{"s":"D(I)","v":1.23,"a":6.03},{"s":"D(I)","v":1.48,"a":6.28},{"s":"D(I)","v":1.98,"a":6.41},{"s":"D(I)","v":4.5,"a":6.48},{"s":"D(I)","v":15.1,"a":6.5},
{"s":"D(II)","v":-15.3,"a":6.5},{"s":"D(II)","v":-4,"a":6.48},{"s":"D(II)","v":-1.4,"a":6.41},{"s":"D(II)","v":-0.9,"a":6.22},{"s":"D(II)","v":-0.65,"a":5.81},{"s":"D(II)","v":-0.48,"a":5.07},{"s":"D(II)","v":-0.35,"a":4.57},{"s":"D(II)","v":-0.22,"a":5.05},{"s":"D(II)","v":-0.05,"a":5.78},{"s":"D(II)","v":0.2,"a":6.16},{"s":"D(II)","v":0.47,"a":6.24},{"s":"D(II)","v":0.73,"a":6.16},{"s":"D(II)","v":0.98,"a":5.78},{"s":"D(II)","v":1.15,"a":5.05},{"s":"D(II)","v":1.28,"a":4.57},{"s":"D(II)","v":1.41,"a":5.07},{"s":"D(II)","v":1.58,"a":5.81},{"s":"D(II)","v":1.83,"a":6.22},{"s":"D(II)","v":2.33,"a":6.41},{"s":"D(II)","v":5,"a":6.48},{"s":"D(II)","v":15.1,"a":6.5},
{"s":"D(III')","v":-15.3,"a":6.5},{"s":"D(III')","v":-4,"a":6.49},{"s":"D(III')","v":-1.0,"a":6.44},{"s":"D(III')","v":-0.5,"a":6.25},{"s":"D(III')","v":-0.25,"a":5.75},{"s":"D(III')","v":-0.13,"a":5.21},{"s":"D(III')","v":-0.05,"a":5.0},{"s":"D(III')","v":0.03,"a":5.21},{"s":"D(III')","v":0.15,"a":5.75},{"s":"D(III')","v":0.4,"a":6.25},{"s":"D(III')","v":0.9,"a":6.44},{"s":"D(III')","v":1.5,"a":6.45},{"s":"D(III')","v":2.2,"a":6.43},{"s":"D(III')","v":2.65,"a":6.25},{"s":"D(III')","v":2.9,"a":5.75},{"s":"D(III')","v":3.02,"a":5.21},{"s":"D(III')","v":3.1,"a":5.0},{"s":"D(III')","v":3.18,"a":5.21},{"s":"D(III')","v":3.3,"a":5.75},{"s":"D(III')","v":3.55,"a":6.25},{"s":"D(III')","v":4.0,"a":6.44},{"s":"D(III')","v":7,"a":6.49},{"s":"D(III')","v":15.1,"a":6.5},
{"s":"S(I)","v":-15.3,"a":6.5},{"s":"S(I)","v":-8.46,"a":6.35},{"s":"S(I)","v":-8.28,"a":6.04},{"s":"S(I)","v":-8.17,"a":5.38},{"s":"S(I)","v":-8.1,"a":5.0},{"s":"S(I)","v":-8.03,"a":5.38},{"s":"S(I)","v":-7.92,"a":6.04},{"s":"S(I)","v":-7.74,"a":6.35},{"s":"S(I)","v":-6.5,"a":6.5},{"s":"S(I)","v":-4.87,"a":6.4},{"s":"S(I)","v":-4.69,"a":6.19},{"s":"S(I)","v":-4.58,"a":5.75},{"s":"S(I)","v":-4.51,"a":5.5},{"s":"S(I)","v":-4.44,"a":5.75},{"s":"S(I)","v":-4.33,"a":6.19},{"s":"S(I)","v":-4.15,"a":6.4},{"s":"S(I)","v":-2.5,"a":6.5},{"s":"S(I)","v":-1.09,"a":6.45},{"s":"S(I)","v":-0.91,"a":6.35},{"s":"S(I)","v":-0.8,"a":6.15},{"s":"S(I)","v":-0.73,"a":6.03},{"s":"S(I)","v":-0.66,"a":6.15},{"s":"S(I)","v":-0.55,"a":6.35},{"s":"S(I)","v":-0.37,"a":6.45},{"s":"S(I)","v":0.5,"a":6.5},{"s":"S(I)","v":1.49,"a":6.45},{"s":"S(I)","v":1.67,"a":6.35},{"s":"S(I)","v":1.78,"a":6.15},{"s":"S(I)","v":1.85,"a":6.03},{"s":"S(I)","v":1.92,"a":6.15},{"s":"S(I)","v":2.03,"a":6.35},{"s":"S(I)","v":2.21,"a":6.45},{"s":"S(I)","v":3.5,"a":6.5},{"s":"S(I)","v":5.07,"a":6.4},{"s":"S(I)","v":5.25,"a":6.19},{"s":"S(I)","v":5.36,"a":5.75},{"s":"S(I)","v":5.43,"a":5.5},{"s":"S(I)","v":5.5,"a":5.75},{"s":"S(I)","v":5.61,"a":6.19},{"s":"S(I)","v":5.79,"a":6.4},{"s":"S(I)","v":7.5,"a":6.5},{"s":"S(I)","v":8.99,"a":6.35},{"s":"S(I)","v":9.17,"a":6.04},{"s":"S(I)","v":9.28,"a":5.38},{"s":"S(I)","v":9.35,"a":5.0},{"s":"S(I)","v":9.42,"a":5.38},{"s":"S(I)","v":9.53,"a":6.04},{"s":"S(I)","v":9.71,"a":6.35},{"s":"S(I)","v":11,"a":6.5},{"s":"S(I)","v":15.1,"a":6.5},
{"s":"S(II)","v":-15.3,"a":6.5},{"s":"S(II)","v":-8.6,"a":6.34},{"s":"S(II)","v":-8.25,"a":6.05},{"s":"S(II)","v":-8.0,"a":5.32},{"s":"S(II)","v":-7.85,"a":4.9},{"s":"S(II)","v":-7.7,"a":5.32},{"s":"S(II)","v":-7.45,"a":6.05},{"s":"S(II)","v":-7.1,"a":6.34},{"s":"S(II)","v":-6.0,"a":6.49},{"s":"S(II)","v":-4.95,"a":6.39},{"s":"S(II)","v":-4.6,"a":6.19},{"s":"S(II)","v":-4.35,"a":5.69},{"s":"S(II)","v":-4.2,"a":5.4},{"s":"S(II)","v":-4.05,"a":5.69},{"s":"S(II)","v":-3.8,"a":6.19},{"s":"S(II)","v":-3.45,"a":6.39},{"s":"S(II)","v":-2.3,"a":6.49},{"s":"S(II)","v":-1.35,"a":6.44},{"s":"S(II)","v":-1.0,"a":6.33},{"s":"S(II)","v":-0.75,"a":6.06},{"s":"S(II)","v":-0.6,"a":5.9},{"s":"S(II)","v":-0.45,"a":6.06},{"s":"S(II)","v":-0.2,"a":6.33},{"s":"S(II)","v":0.15,"a":6.44},{"s":"S(II)","v":1.2,"a":6.49},{"s":"S(II)","v":2.3,"a":6.44},{"s":"S(II)","v":2.65,"a":6.33},{"s":"S(II)","v":2.9,"a":6.06},{"s":"S(II)","v":3.05,"a":5.9},{"s":"S(II)","v":3.2,"a":6.06},{"s":"S(II)","v":3.45,"a":6.33},{"s":"S(II)","v":3.8,"a":6.44},{"s":"S(II)","v":4.55,"a":6.39},{"s":"S(II)","v":4.9,"a":6.19},{"s":"S(II)","v":5.15,"a":5.69},{"s":"S(II)","v":5.3,"a":5.4},{"s":"S(II)","v":5.45,"a":5.69},{"s":"S(II)","v":5.7,"a":6.19},{"s":"S(II)","v":6.05,"a":6.39},{"s":"S(II)","v":7.0,"a":6.48},{"s":"S(II)","v":7.85,"a":6.34},{"s":"S(II)","v":8.2,"a":6.05},{"s":"S(II)","v":8.45,"a":5.32},{"s":"S(II)","v":8.6,"a":4.9},{"s":"S(II)","v":8.75,"a":5.32},{"s":"S(II)","v":9.0,"a":6.05},{"s":"S(II)","v":9.35,"a":6.34},{"s":"S(II)","v":10.5,"a":6.49},{"s":"S(II)","v":15.1,"a":6.5},
{"s":"S(III)","v":-15.3,"a":6.5},{"s":"S(III)","v":-8.25,"a":6.36},{"s":"S(III)","v":-7.75,"a":6.1},{"s":"S(III)","v":-7.41,"a":5.47},{"s":"S(III)","v":-7.2,"a":5.1},{"s":"S(III)","v":-6.99,"a":5.47},{"s":"S(III)","v":-6.65,"a":6.1},{"s":"S(III)","v":-6.15,"a":6.36},{"s":"S(III)","v":-5.5,"a":6.4},{"s":"S(III)","v":-4.85,"a":6.4},{"s":"S(III)","v":-4.35,"a":6.23},{"s":"S(III)","v":-4.01,"a":5.8},{"s":"S(III)","v":-3.8,"a":5.55},{"s":"S(III)","v":-3.59,"a":5.8},{"s":"S(III)","v":-3.25,"a":6.23},{"s":"S(III)","v":-2.75,"a":6.4},{"s":"S(III)","v":-2.1,"a":6.44},{"s":"S(III)","v":-1.45,"a":6.45},{"s":"S(III)","v":-0.95,"a":6.36},{"s":"S(III)","v":-0.61,"a":6.13},{"s":"S(III)","v":-0.4,"a":6.0},{"s":"S(III)","v":-0.19,"a":6.13},{"s":"S(III)","v":0.15,"a":6.36},{"s":"S(III)","v":0.65,"a":6.45},{"s":"S(III)","v":1.25,"a":6.45},{"s":"S(III)","v":1.75,"a":6.36},{"s":"S(III)","v":2.09,"a":6.13},{"s":"S(III)","v":2.3,"a":6.0},{"s":"S(III)","v":2.51,"a":6.13},{"s":"S(III)","v":2.85,"a":6.36},{"s":"S(III)","v":3.35,"a":6.42},{"s":"S(III)","v":3.75,"a":6.4},{"s":"S(III)","v":4.25,"a":6.23},{"s":"S(III)","v":4.59,"a":5.8},{"s":"S(III)","v":4.8,"a":5.55},{"s":"S(III)","v":5.01,"a":5.8},{"s":"S(III)","v":5.35,"a":6.23},{"s":"S(III)","v":5.85,"a":6.4},{"s":"S(III)","v":6.5,"a":6.42},{"s":"S(III)","v":7.15,"a":6.36},{"s":"S(III)","v":7.65,"a":6.1},{"s":"S(III)","v":7.99,"a":5.47},{"s":"S(III)","v":8.2,"a":5.1},{"s":"S(III)","v":8.41,"a":5.47},{"s":"S(III)","v":8.75,"a":6.1},{"s":"S(III)","v":9.25,"a":6.36},{"s":"S(III)","v":10.5,"a":6.48},{"s":"S(III)","v":15.1,"a":6.5},
{"s":"S(IV)","v":-15.3,"a":6.5},{"s":"S(IV)","v":-10,"a":6.49},{"s":"S(IV)","v":-9.2,"a":6.46},{"s":"S(IV)","v":-8.6,"a":6.4},{"s":"S(IV)","v":-8.0,"a":6.25},{"s":"S(IV)","v":-7.4,"a":6.0},{"s":"S(IV)","v":-6.9,"a":5.8},{"s":"S(IV)","v":-6.6,"a":5.75},{"s":"S(IV)","v":-6.2,"a":5.82},{"s":"S(IV)","v":-5.7,"a":6.05},{"s":"S(IV)","v":-5.1,"a":6.18},{"s":"S(IV)","v":-4.6,"a":6.1},{"s":"S(IV)","v":-4.0,"a":5.87},{"s":"S(IV)","v":-3.3,"a":5.75},{"s":"S(IV)","v":-2.8,"a":5.85},{"s":"S(IV)","v":-2.2,"a":6.08},{"s":"S(IV)","v":-1.6,"a":6.2},{"s":"S(IV)","v":-1.0,"a":6.15},{"s":"S(IV)","v":-0.4,"a":6.05},{"s":"S(IV)","v":0.2,"a":6.15},{"s":"S(IV)","v":0.8,"a":6.2},{"s":"S(IV)","v":1.3,"a":6.15},{"s":"S(IV)","v":1.8,"a":6.1},{"s":"S(IV)","v":2.4,"a":6.15},{"s":"S(IV)","v":3.0,"a":6.05},{"s":"S(IV)","v":3.6,"a":5.9},{"s":"S(IV)","v":4.1,"a":5.78},{"s":"S(IV)","v":4.5,"a":5.75},{"s":"S(IV)","v":5.0,"a":5.85},{"s":"S(IV)","v":5.5,"a":6.05},{"s":"S(IV)","v":6.1,"a":6.12},{"s":"S(IV)","v":6.6,"a":5.95},{"s":"S(IV)","v":7.2,"a":5.78},{"s":"S(IV)","v":7.7,"a":5.75},{"s":"S(IV)","v":8.2,"a":5.9},{"s":"S(IV)","v":8.8,"a":6.2},{"s":"S(IV)","v":9.4,"a":6.4},{"s":"S(IV)","v":10.0,"a":6.47},{"s":"S(IV)","v":11,"a":6.5},{"s":"S(IV)","v":15.1,"a":6.5}
],
"leg_b":[
{"s":"D(I)","a":1.70,"p":"19.0 %"},{"s":"D(II)","a":1.42,"p":"13.9 %"},{"s":"D(III)","a":1.14,"p":"11.0 %"},{"s":"S(I')","a":0.857,"p":"\u200914.9 %"},{"s":"S(II)","a":0.574,"p":"\u200924.6 %"},{"s":"S(III)","a":0.29,"p":"\u200916.6 %"}
],
"leg_c":[
{"s":"D(I)","a":3.37,"p":"12.7 %"},{"s":"D(II)","a":2.91,"p":"13.2 %"},{"s":"D(III')","a":2.45,"p":"\u20078.9 %"},{"s":"S(I)","a":1.99,"p":"\u20074.7 %"},{"s":"S(II)","a":1.47,"p":"11.2 %"},{"s":"S(III)","a":0.97,"p":"19.1 %"},{"s":"S(IV)","a":0.48,"p":"\u200830.2 %"}
]
},
"spacing":34,
"resolve":{"scale":{"x":"independent","y":"independent","color":"independent","strokeDash":"independent","strokeWidth":"independent"}},
"hconcat":[
{
 "spacing":0,
 "resolve":{"scale":{"x":"independent","y":"independent"}},
 "vconcat":[
 {"width":358,"height":93,"view":{"stroke":null},"data":{"values":[]},"mark":"point","encoding":{}},
 {
 "width":358,"height":535,
 "resolve":{"axis":{"x":"independent","y":"independent"}},
 "layer":[
  {"data":{"name":"ft"},"transform":[{"filter":"datum.s==='g'||datum.s==='a'"}],
   "mark":{"type":"line","color":"#9a9a9a","strokeWidth":1.6,"interpolate":"monotone"},
   "encoding":{
    "x":{"field":"r","type":"quantitative","scale":{"domain":[0,6],"nice":false,"zero":false},
     "axis":{"orient":"bottom","title":"R, Å","titleFontSize":21,"titlePadding":6,"labelFontSize":17,"labelPadding":13,"values":[0,1,2,3,4,5,6],"labelExpr":"datum.value % 2 === 0 ? datum.label : ''","tickSize":5,"labelFlush":false}},
    "y":{"field":"f","type":"quantitative","scale":{"domain":[-0.45,40.1],"nice":false,"zero":false},
     "axis":{"orient":"left","title":"|FT(χ(k)\u00a0\u00a0*\u00a0\u00a0k³)|","titleFontSize":24,"titlePadding":9,"titleY":250,"labels":false,"values":[0,5,10,15,20,25,30,35,40],"tickSize":-4}},
    "detail":{"field":"s"}}},
  {"data":{"name":"ft"},"transform":[{"filter":"datum.s==='c10'||datum.s==='c05'"}],
   "mark":{"type":"line","color":"black","strokeWidth":2.6,"interpolate":"monotone"},
   "encoding":{
    "x":{"field":"r","type":"quantitative","scale":{"domain":[0,6],"nice":false,"zero":false},"axis":null},
    "y":{"field":"f","type":"quantitative","scale":{"domain":[-0.45,40.1],"nice":false,"zero":false},
     "axis":{"orient":"right","title":null,"labels":false,"values":[0,5,10,15,20,25,30,35,40],"tickSize":-4}},
    "detail":{"field":"s"}}},
  {"data":{"values":[{"r":5.21,"f":33.8,"f2":38.8}]},
   "mark":{"type":"rule","color":"#666666","strokeWidth":1.3},
   "encoding":{"x":{"field":"r","type":"quantitative","scale":{"domain":[0,6],"nice":false,"zero":false},"axis":null},
    "y":{"field":"f","type":"quantitative","scale":{"domain":[-0.45,40.1],"nice":false,"zero":false},"axis":null},"y2":{"field":"f2"}}},
  {"data":{"values":[{"r":5.15,"r2":5.28,"f":38.8},{"r":5.15,"r2":5.28,"f":33.8}]},
   "mark":{"type":"rule","color":"#666666","strokeWidth":1.3},
   "encoding":{"x":{"field":"r","type":"quantitative","scale":{"domain":[0,6],"nice":false,"zero":false},"axis":null},"x2":{"field":"r2"},
    "y":{"field":"f","type":"quantitative","scale":{"domain":[-0.45,40.1],"nice":false,"zero":false},"axis":null}}},
  {"data":{"values":[{"r":5.09,"f":36.2,"t":"5"}]},
   "mark":{"type":"text","fontSize":15,"align":"center","baseline":"middle","color":"#333333"},
   "encoding":{"x":{"field":"r","type":"quantitative","scale":{"domain":[0,6],"nice":false,"zero":false},"axis":null},
    "y":{"field":"f","type":"quantitative","scale":{"domain":[-0.45,40.1],"nice":false,"zero":false},"axis":null},"text":{"field":"t"}}},
  {"data":{"values":[{"r":4.81,"f":26.36,"t":"γ-Fe₂O₃"},{"r":4.84,"f":21.14,"t":"Fe-Z(A, C₁₀)"},{"r":4.89,"f":15.45,"t":"Fe-Z(A, C₀.₅)"},{"r":4.9,"f":7.27,"t":"α-Fe₂O₃"}]},
   "mark":{"type":"text","fontSize":21,"align":"center","baseline":"middle","color":"#111111"},
   "encoding":{"x":{"field":"r","type":"quantitative","scale":{"domain":[0,6],"nice":false,"zero":false},"axis":null},
    "y":{"field":"f","type":"quantitative","scale":{"domain":[-0.45,40.1],"nice":false,"zero":false},"axis":null},"text":{"field":"t"}}},
  {"data":{"values":[{"r":-0.3,"f":39.0,"t":"(a)"}]},
   "mark":{"type":"text","fontSize":21,"font":"Liberation Serif","fontWeight":"bold","align":"center","baseline":"middle"},
   "encoding":{"x":{"field":"r","type":"quantitative","scale":{"domain":[0,6],"nice":false,"zero":false},"axis":null},
    "y":{"field":"f","type":"quantitative","scale":{"domain":[-0.45,40.1],"nice":false,"zero":false},"axis":null},"text":{"field":"t"}}}
 ]
 }
 ]
},
{
 "spacing":4,
 "resolve":{"scale":{"x":"independent","y":"independent","color":"independent","strokeDash":"independent","strokeWidth":"independent"}},
 "vconcat":[
 {
  "width":381,"height":284,
  "resolve":{"axis":{"x":"independent","y":"independent"}},
  "layer":[
   {"data":{"name":"pts_b"},"mark":{"type":"circle","size":15,"color":"black","opacity":1},
    "encoding":{
     "x":{"field":"v","type":"quantitative","scale":{"domain":[-15.97,15.08],"nice":false,"zero":false},
      "axis":{"orient":"top","title":null,"labels":false,"values":[-15,-12.5,-10,-7.5,-5,-2.5,0,2.5,5,7.5,10,12.5,15],"tickSize":-4}},
     "y":{"field":"a","type":"quantitative","scale":{"domain":[0,4.37],"nice":false,"zero":false},
      "axis":{"orient":"right","title":null,"labels":false,"values":[1,2,3,4],"tickSize":-5}}}},
   {"data":{"name":"comp_b"},"mark":{"type":"line","interpolate":"monotone"},
    "encoding":{
     "x":{"field":"v","type":"quantitative","scale":{"domain":[-15.97,15.08],"nice":false,"zero":false},"axis":null},
     "y":{"field":"a","type":"quantitative","scale":{"domain":[0,4.37],"nice":false,"zero":false},"axis":null},
     "color":{"field":"s","type":"nominal","scale":{"domain":["D(I)","D(II)","D(III)","S(I')","S(II)","S(III)"],"range":["#c4c4c4","#8c8c8c","#a8a8a8","#000000","#000000","#c4c4c4"]},"legend":null},
     "strokeDash":{"field":"s","type":"nominal","scale":{"domain":["D(I)","D(II)","D(III)","S(I')","S(II)","S(III)"],"range":[[1,0],[1.5,1.5],[4,3],[1,0],[4,3],[1,0]]},"legend":null},
     "strokeWidth":{"field":"s","type":"nominal","scale":{"domain":["D(I)","D(II)","D(III)","S(I')","S(II)","S(III)"],"range":[1.2,1.6,1.2,1.0,1.0,1.3]},"legend":null}}},
   {"data":{"name":"fit_b"},"mark":{"type":"line","color":"black","strokeWidth":1.5,"interpolate":"monotone"},
    "encoding":{
     "x":{"field":"v","type":"quantitative","scale":{"domain":[-15.97,15.08],"nice":false,"zero":false},
      "axis":{"orient":"bottom","title":"Velocity, mm/s","titleFontSize":21,"titlePadding":5,"labelFontSize":17,"labelPadding":3,"values":[-15,-12.5,-10,-7.5,-5,-2.5,0,2.5,5,7.5,10,12.5,15],"labelExpr":"datum.value % 5 === 0 ? datum.label : ''","tickSize":{"condition":{"test":"datum.value % 5 === 0","value":7},"value":4},"labelFlush":false,"labelOverlap":false}},
     "y":{"field":"a","type":"quantitative","scale":{"domain":[0,4.37],"nice":false,"zero":false},
      "axis":{"orient":"left","title":"Absorption","titleFontSize":21,"titlePadding":12,"titleY":113,"labels":false,"values":[1,2,3,4],"tickSize":-5}}}},
   {"data":{"name":"leg_b"},"mark":{"type":"rule"},
    "encoding":{
     "x":{"datum":-15.55,"type":"quantitative","scale":{"domain":[-15.97,15.08],"nice":false,"zero":false},"axis":null},
     "x2":{"datum":-12.7},
     "y":{"field":"a","type":"quantitative","scale":{"domain":[0,4.37],"nice":false,"zero":false},"axis":null},
     "color":{"field":"s","type":"nominal","scale":{"domain":["D(I)","D(II)","D(III)","S(I')","S(II)","S(III)"],"range":["#c4c4c4","#8c8c8c","#a8a8a8","#000000","#000000","#c4c4c4"]},"legend":null},
     "strokeDash":{"field":"s","type":"nominal","scale":{"domain":["D(I)","D(II)","D(III)","S(I')","S(II)","S(III)"],"range":[[1,0],[1.5,1.5],[4,3],[1,0],[4,3],[1,0]]},"legend":null},
     "strokeWidth":{"field":"s","type":"nominal","scale":{"domain":["D(I)","D(II)","D(III)","S(I')","S(II)","S(III)"],"range":[1.2,1.6,1.2,1.0,1.0,1.3]},"legend":null}}},
   {"data":{"name":"leg_b"},"mark":{"type":"text","fontSize":16,"align":"left","baseline":"middle","color":"#111111"},
    "encoding":{
     "x":{"datum":-12.41,"type":"quantitative","scale":{"domain":[-15.97,15.08],"nice":false,"zero":false},"axis":null},
     "y":{"field":"a","type":"quantitative","scale":{"domain":[0,4.37],"nice":false,"zero":false},"axis":null},
     "text":{"field":"s"}}},
   {"data":{"name":"leg_b"},"mark":{"type":"text","fontSize":16,"align":"left","baseline":"middle","color":"#111111"},
    "encoding":{
     "x":{"datum":-7.41,"type":"quantitative","scale":{"domain":[-15.97,15.08],"nice":false,"zero":false},"axis":null},
     "y":{"field":"a","type":"quantitative","scale":{"domain":[0,4.37],"nice":false,"zero":false},"axis":null},
     "text":{"field":"p"}}},
   {"data":{"values":[{"v":9.17,"a":1.45,"t":"Fe-Z(A, C₁₀)"}]},
    "mark":{"type":"text","fontSize":20,"align":"center","baseline":"middle","color":"#111111"},
    "encoding":{
     "x":{"field":"v","type":"quantitative","scale":{"domain":[-15.97,15.08],"nice":false,"zero":false},"axis":null},
     "y":{"field":"a","type":"quantitative","scale":{"domain":[0,4.37],"nice":false,"zero":false},"axis":null},
     "text":{"field":"t"}}},
   {"data":{"values":[{"v":-17.5,"a":4.25,"t":"(b)"}]},
    "mark":{"type":"text","fontSize":21,"font":"Liberation Serif","fontWeight":"bold","align":"center","baseline":"middle"},
    "encoding":{
     "x":{"field":"v","type":"quantitative","scale":{"domain":[-15.97,15.08],"nice":false,"zero":false},"axis":null},
     "y":{"field":"a","type":"quantitative","scale":{"domain":[0,4.37],"nice":false,"zero":false},"axis":null},
     "text":{"field":"t"}}}
  ]
 },
 {
  "width":381,"height":285,
  "resolve":{"axis":{"x":"independent","y":"independent"}},
  "layer":[
   {"data":{"name":"pts_c"},"mark":{"type":"circle","size":15,"color":"black","opacity":1},
    "encoding":{
     "x":{"field":"v","type":"quantitative","scale":{"domain":[-15.97,15.08],"nice":false,"zero":false},
      "axis":{"orient":"top","title":null,"labels":false,"values":[-15,-12.5,-10,-7.5,-5,-2.5,0,2.5,5,7.5,10,12.5,15],"tickSize":-4}},
     "y":{"field":"a","type":"quantitative","scale":{"domain":[0,7.25],"nice":false,"zero":false},
      "axis":{"orient":"right","title":null,"labels":false,"values":[1,2,3,4,5,6,7],"tickSize":-5}}}},
   {"data":{"name":"comp_c"},"mark":{"type":"line","interpolate":"monotone"},
    "encoding":{
     "x":{"field":"v","type":"quantitative","scale":{"domain":[-15.97,15.08],"nice":false,"zero":false},"axis":null},
     "y":{"field":"a","type":"quantitative","scale":{"domain":[0,7.25],"nice":false,"zero":false},"axis":null},
     "color":{"field":"s","type":"nominal","scale":{"domain":["D(I)","D(II)","D(III')","S(I)","S(II)","S(III)","S(IV)"],"range":["#c4c4c4","#8c8c8c","#a8a8a8","#000000","#000000","#000000","#c8c8c8"]},"legend":null},
     "strokeDash":{"field":"s","type":"nominal","scale":{"domain":["D(I)","D(II)","D(III')","S(I)","S(II)","S(III)","S(IV)"],"range":[[1,0],[1.5,1.5],[4,3],[1,0],[4,3],[1.5,1.5],[1,0]]},"legend":null},
     "strokeWidth":{"field":"s","type":"nominal","scale":{"domain":["D(I)","D(II)","D(III')","S(I)","S(II)","S(III)","S(IV)"],"range":[1.2,1.6,1.2,1.0,1.0,1.8,2.2]},"legend":null}}},
   {"data":{"name":"fit_c"},"mark":{"type":"line","color":"black","strokeWidth":1.5,"interpolate":"monotone"},
    "encoding":{
     "x":{"field":"v","type":"quantitative","scale":{"domain":[-15.97,15.08],"nice":false,"zero":false},
      "axis":{"orient":"bottom","title":"Velocity, mm/s","titleFontSize":21,"titlePadding":5,"labelFontSize":17,"labelPadding":3,"values":[-15,-12.5,-10,-7.5,-5,-2.5,0,2.5,5,7.5,10,12.5,15],"labelExpr":"datum.value % 5 === 0 ? datum.label : ''","tickSize":{"condition":{"test":"datum.value % 5 === 0","value":7},"value":4},"labelFlush":false,"labelOverlap":false}},
     "y":{"field":"a","type":"quantitative","scale":{"domain":[0,7.25],"nice":false,"zero":false},
      "axis":{"orient":"left","title":"Absorption","titleFontSize":21,"titlePadding":12,"labels":false,"values":[1,2,3,4,5,6,7],"tickSize":-5}}}},
   {"data":{"name":"leg_c"},"mark":{"type":"rule"},
    "encoding":{
     "x":{"datum":-15.55,"type":"quantitative","scale":{"domain":[-15.97,15.08],"nice":false,"zero":false},"axis":null},
     "x2":{"datum":-12.7},
     "y":{"field":"a","type":"quantitative","scale":{"domain":[0,7.25],"nice":false,"zero":false},"axis":null},
     "color":{"field":"s","type":"nominal","scale":{"domain":["D(I)","D(II)","D(III')","S(I)","S(II)","S(III)","S(IV)"],"range":["#c4c4c4","#8c8c8c","#a8a8a8","#000000","#000000","#000000","#c8c8c8"]},"legend":null},
     "strokeDash":{"field":"s","type":"nominal","scale":{"domain":["D(I)","D(II)","D(III')","S(I)","S(II)","S(III)","S(IV)"],"range":[[1,0],[1.5,1.5],[4,3],[1,0],[4,3],[1.5,1.5],[1,0]]},"legend":null},
     "strokeWidth":{"field":"s","type":"nominal","scale":{"domain":["D(I)","D(II)","D(III')","S(I)","S(II)","S(III)","S(IV)"],"range":[1.2,1.6,1.2,1.0,1.0,1.8,2.2]},"legend":null}}},
   {"data":{"name":"leg_c"},"mark":{"type":"text","fontSize":16,"align":"left","baseline":"middle","color":"#111111"},
    "encoding":{
     "x":{"datum":-12.41,"type":"quantitative","scale":{"domain":[-15.97,15.08],"nice":false,"zero":false},"axis":null},
     "y":{"field":"a","type":"quantitative","scale":{"domain":[0,7.25],"nice":false,"zero":false},"axis":null},
     "text":{"field":"s"}}},
   {"data":{"name":"leg_c"},"mark":{"type":"text","fontSize":16,"align":"left","baseline":"middle","color":"#111111"},
    "encoding":{
     "x":{"datum":-6.85,"type":"quantitative","scale":{"domain":[-15.97,15.08],"nice":false,"zero":false},"axis":null},
     "y":{"field":"a","type":"quantitative","scale":{"domain":[0,7.25],"nice":false,"zero":false},"axis":null},
     "text":{"field":"p"}}},
   {"data":{"values":[{"v":8.64,"a":2.21,"t":"Fe-Z(A, C₀.₅)"}]},
    "mark":{"type":"text","fontSize":20,"align":"center","baseline":"middle","color":"#111111"},
    "encoding":{
     "x":{"field":"v","type":"quantitative","scale":{"domain":[-15.97,15.08],"nice":false,"zero":false},"axis":null},
     "y":{"field":"a","type":"quantitative","scale":{"domain":[0,7.25],"nice":false,"zero":false},"axis":null},
     "text":{"field":"t"}}},
   {"data":{"values":[{"v":-17.5,"a":7.05,"t":"(c)"}]},
    "mark":{"type":"text","fontSize":21,"font":"Liberation Serif","fontWeight":"bold","align":"center","baseline":"middle"},
    "encoding":{
     "x":{"field":"v","type":"quantitative","scale":{"domain":[-15.97,15.08],"nice":false,"zero":false},"axis":null},
     "y":{"field":"a","type":"quantitative","scale":{"domain":[0,7.25],"nice":false,"zero":false},"axis":null},
     "text":{"field":"t"}}}
  ]
 }
 ]
}
]
}
